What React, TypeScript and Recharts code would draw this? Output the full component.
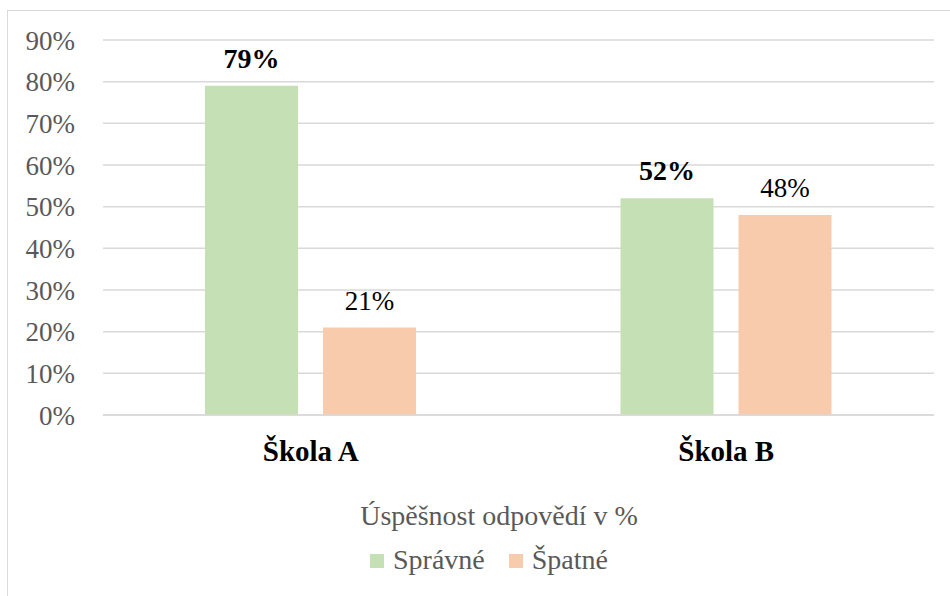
import { BarChart, Bar, XAxis, YAxis, CartesianGrid, Legend, LabelList } from 'recharts';

const schools = ['Škola A', 'Škola B'];
const spravne = [79, 52];
const spatne = [21, 48];
const yTicks = [0, 10, 20, 30, 40, 50, 60, 70, 80, 90];

const COLORS = {
  spravne: '#c5e0b4',
  spatne: '#f8cbad',
  grid: '#d9d9d9',
  text: '#595959',
};

const FONT = "'Liberation Serif', 'Times New Roman', serif";

// force the serif face on everything inside the chart
const css = `
#root .chart-box, #root .chart-box *, #root .chart-box svg text, #root .chart-box svg tspan {
  font-family: ${FONT} !important;
}
`;

const data = schools.map((s, i) => ({ school: s, Správné: spravne[i], Špatné: spatne[i] }));

function LegendBlock() {
  const items = [
    { name: 'Správné', color: COLORS.spravne },
    { name: 'Špatné', color: COLORS.spatne },
  ];
  return (
    <div style={{ height: 82, fontFamily: FONT, color: COLORS.text }}>
      <div style={{ marginLeft: 64, textAlign: 'center', fontSize: 28, lineHeight: '32px', height: 36 }}>
        Úspěšnost odpovědí v %
      </div>
      <div style={{ marginLeft: 44, display: 'flex', justifyContent: 'center', fontSize: 28, lineHeight: '32px', marginTop: 8 }}>
        {items.map((it, i) => (
          <span key={it.name} style={{ display: 'flex', alignItems: 'center', marginLeft: i ? 24 : 0 }}>
            <span style={{ display: 'inline-block', width: 14, height: 14, background: it.color, marginRight: 9, marginTop: 2 }} />
            {it.name}
          </span>
        ))}
      </div>
    </div>
  );
}

export default function App() {
  return (
    <div className="chart-box" style={{ position: 'absolute', left: 0, top: 0, width: 950, height: 596, overflow: 'hidden', background: '#fff', fontFamily: FONT }}>
      <style>{css}</style>
      <div
        style={{
          position: 'absolute',
          left: 7,
          top: 10,
          width: 980,
          height: 620,
          border: '1px solid #d9d9d9',
        }}
      />
      <BarChart
        width={950}
        height={596}
        data={data}
        margin={{ top: 40, right: 16, bottom: 14, left: 0 }}
        barSize={93}
        barGap={25}
      >
        <CartesianGrid vertical={false} stroke={COLORS.grid} strokeWidth={1.5} />
        <YAxis
          domain={[0, 90]}
          ticks={yTicks}
          width={103}
          axisLine={false}
          tickLine={false}
          tickSize={0}
          tickMargin={28}
          tickFormatter={(v) => `${v}%`}
          tick={{ fill: COLORS.text, fontSize: 27, fontFamily: FONT }}
        />
        <XAxis
          dataKey="school"
          height={85}
          axisLine={{ stroke: COLORS.grid, strokeWidth: 1.5 }}
          tickLine={false}
          tickSize={0}
          tickMargin={25}
          tick={{ fill: '#000', fontSize: 29, fontWeight: 'bold', fontFamily: FONT }}
        />
        <Legend verticalAlign="bottom" height={82} content={() => <LegendBlock />} />
        <Bar dataKey="Správné" fill={COLORS.spravne} isAnimationActive={false}>
          <LabelList
            dataKey="Správné"
            position="top"
            offset={18}
            formatter={(v) => `${v}%`}
            fill="#000"
            fontSize={28}
            fontWeight="bold"
            fontFamily={FONT}
          />
        </Bar>
        <Bar dataKey="Špatné" fill={COLORS.spatne} isAnimationActive={false}>
          <LabelList
            dataKey="Špatné"
            position="top"
            offset={18}
            formatter={(v) => `${v}%`}
            fill="#000"
            fontSize={27}
            fontFamily={FONT}
          />
        </Bar>
      </BarChart>
    </div>
  );
}
